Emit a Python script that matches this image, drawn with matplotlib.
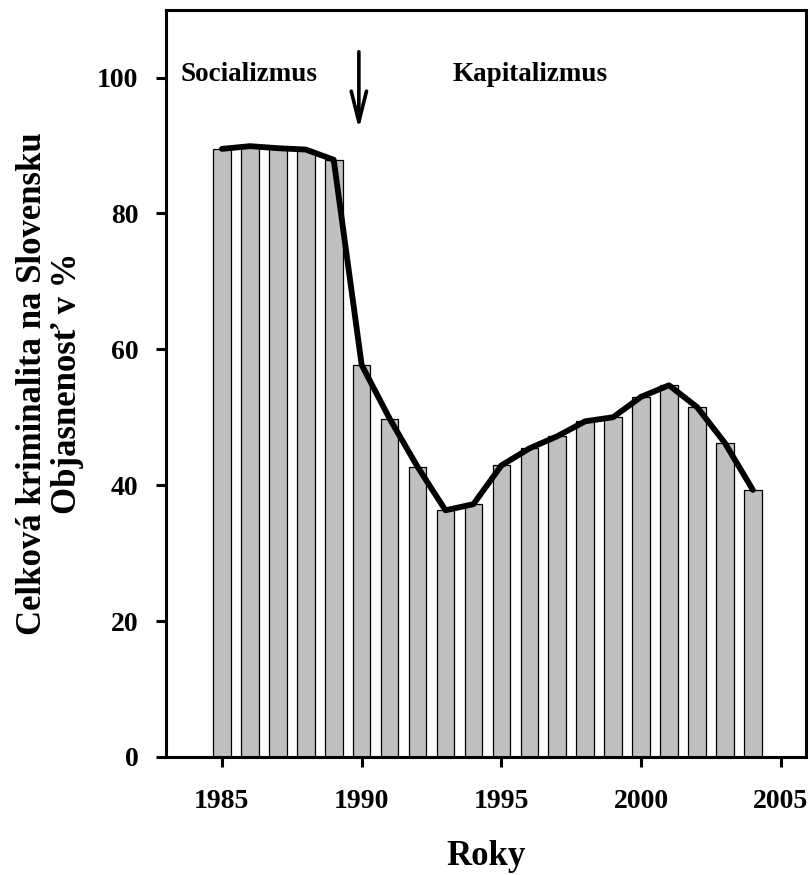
import numpy as np
import matplotlib
matplotlib.use("Agg")
import matplotlib.pyplot as plt

plt.rcParams.update(
    {
        "font.family": ["Liberation Serif", "DejaVu Serif"],
        "font.weight": "bold",
        "axes.linewidth": 2.2,
    }
)

# hodnoty odčítané z grafu
roky = np.arange(1985, 2005)
objasnenost = [89.5, 89.9, 89.6, 89.4, 87.9, 57.7, 49.8, 42.7, 36.3, 37.2,
               42.9, 45.4, 47.2, 49.4, 50.0, 53.0, 54.7, 51.5, 46.2, 39.3]
obdobia = ["Socializmus", "Kapitalizmus"]
zlom = 1990

fig = plt.figure(figsize=(8.1, 8.75), dpi=100)
ax = fig.add_axes([0.205, 0.135, 0.79, 0.854])

ax.bar(roky, objasnenost, width=0.63, color="#c0c0c0", edgecolor="black",
       linewidth=0.9, zorder=2)
ax.plot(roky, objasnenost, color="black", linewidth=4.2, zorder=3,
        solid_joinstyle="round", solid_capstyle="round")

# sipka - prelom 1989/1990
ax.annotate("", xy=(zlom - 0.1, 92.4), xytext=(zlom - 0.1, 103.8),
            arrowprops=dict(arrowstyle="->,head_length=2.2,head_width=0.55",
                            lw=2.6, color="black", shrinkA=0, shrinkB=0))

ax.text(1983.5, 100.5, obdobia[0], fontsize=19.5, fontweight="bold",
        ha="left", va="center")
ax.text(1993.25, 100.5, obdobia[1], fontsize=19.5, fontweight="bold",
        ha="left", va="center")

ax.set_xlim(1983, 2005.9)
ax.set_ylim(0, 110)
ax.set_xticks([1985, 1990, 1995, 2000, 2005])
ax.set_yticks([0, 20, 40, 60, 80, 100])
ax.tick_params(axis="both", direction="out", length=7, width=2.2,
               labelsize=20)
ax.tick_params(axis="x", pad=16)
ax.tick_params(axis="y", pad=13)
for lab in ax.get_xticklabels() + ax.get_yticklabels():
    lab.set_fontweight("bold")

ax.set_xlabel("Roky", fontsize=25, fontweight="bold", labelpad=19)
ax.set_ylabel("Celková kriminalita na Slovensku\nObjasnenosť v %", fontsize=25,
              fontweight="bold", labelpad=9, linespacing=1.1)

fig.savefig("out.png", dpi=100)
